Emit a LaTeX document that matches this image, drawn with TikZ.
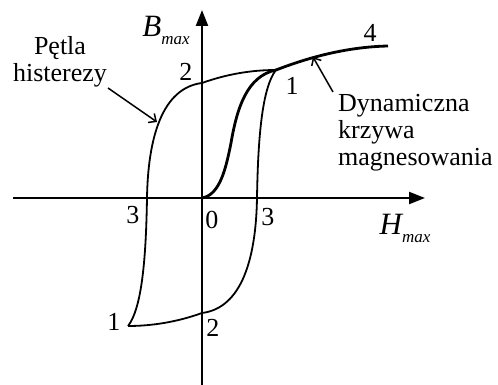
\documentclass[tikz,border=0pt]{standalone}
\usepackage{fontspec}
\setmainfont{Liberation Serif}
\usetikzlibrary{arrows.meta,positioning}

\begin{document}
\begin{tikzpicture}[x=1pt,y=1pt,
    axis/.style={line width=2.2pt, -{Triangle[length=16pt,width=12pt]}},
    loopline/.style={line width=1.8pt},
    dynline/.style={line width=2.8pt},
    pointer/.style={line width=1.5pt, -{Straight Barb[length=6pt,width=11pt]}},
    lab/.style={font=\fontsize{26}{27}\selectfont, inner sep=0pt},
    sym/.style={font=\fontsize{31}{31}\selectfont\itshape, inner sep=0pt}
]
\useasboundingbox (-202,-187) rectangle (296,198);
% osie
\coordinate (O) at (0,0);
\coordinate (xl) at (-189,0);
\coordinate (xr) at (223,0);
\coordinate (yb) at (0,-187);
\coordinate (yt) at (0,188);
\draw[axis] (xl) -- (xr);
\draw[axis] (yb) -- (yt);

% petla histerezy
\coordinate (P1) at (74,128);
\coordinate (P1m) at (-74,-128);
\draw[loopline] (P1m) .. controls (-60,-110) and (-56,-60) .. (-55,0)
  .. controls (-54,60) and (-40,110) .. (0,115)
  .. controls (25,124) and (50,128) .. (P1)
  .. controls (60,110) and (56,60) .. (55,0)
  .. controls (54,-60) and (40,-110) .. (0,-115)
  .. controls (-25,-124) and (-50,-128) .. (P1m);

% krzywa dynamiczna
\coordinate (K4) at (186,152);
\draw[dynline] (O) .. controls (18,3) and (24,30) .. (29,55)
  .. controls (35,90) and (45,122) .. (P1)
  .. controls (100,138) and (140,151) .. (K4);

% opisy osi
\node[sym] (Bl) at (-36,168) {B\raisebox{-8pt}{\fontsize{17}{17}\selectfont max}};
\node[sym] (Hl) at (203,-30) {H\raisebox{-8pt}{\fontsize{17}{17}\selectfont max}};

% punkty
\node[lab] (n2a) at (-16,126) {2};
\node[lab] (n1a) at (90,112) {1};
\node[lab] (n4) at (168,165) {4};
\node[lab] (n3a) at (-69,-17) {3};
\node[lab] (n0) at (10,-22) {0};
\node[lab] (n3b) at (66,-19) {3};
\node[lab] (n1b) at (-88,-124) {1};
\node[lab] (n2b) at (11,-130) {2};

% opisy krzywych
\node[lab, align=center] (petla) at (-142,136) {Pętla\\histerezy};
\node[lab, align=left, anchor=north west] (dyn) at (136,104) {Dynamiczna\\krzywa\\magnesowania};
\coordinate (Ps) at (-94,110);
\coordinate (Pt) at (-45,76);
\coordinate (Ds) at (131,106);
\coordinate (Dt) at (111,141);
\draw[pointer] (Ps) -- (Pt);
\draw[pointer] (Ds) -- (Dt);
\end{tikzpicture}
\end{document}
